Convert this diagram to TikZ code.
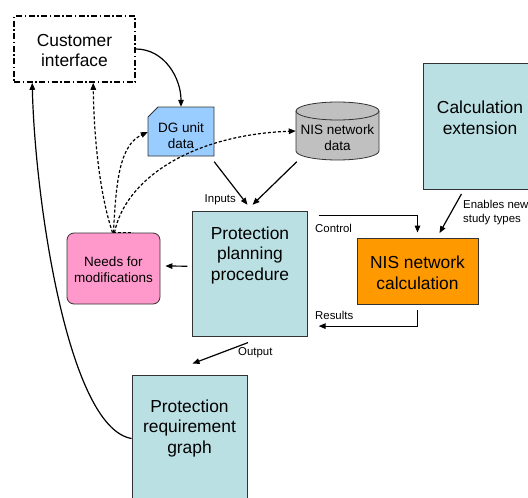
\documentclass[tikz,border=0pt]{standalone}
\usepackage{fontspec}
\setmainfont{Liberation Sans}
\usetikzlibrary{arrows.meta,calc}
\definecolor{tealbox}{HTML}{BBE0E3}
\definecolor{orangebox}{HTML}{FF9900}
\definecolor{pinkbox}{HTML}{FF99CC}
\definecolor{dgblue}{HTML}{99CCFF}
\definecolor{cylgray}{HTML}{C0C0C0}
\begin{document}
\begin{tikzpicture}[x=1pt,y=-1pt,
  >={Triangle[length=7pt,width=5.5pt]},
  box/.style={draw=black!80, line width=0.8pt, inner sep=0pt},
  anc/.style={inner sep=0pt},
  bigtxt/.style={align=center, inner sep=0pt, font=\fontsize{17.4}{20.5}\selectfont},
  midtxt/.style={align=center, inner sep=0pt, font=\fontsize{13.5}{16}\selectfont},
  lbl/.style={align=left, inner sep=0pt, font=\fontsize{11.4}{14}\selectfont},
  conn/.style={->, line width=1.2pt},
  dconn/.style={->, line width=1.2pt, dash pattern=on 3pt off 2pt}]
\useasboundingbox (0,0) rectangle (528,498);
\clip (0,0) rectangle (528,498);

% Customer interface
\node[box, draw=black, line width=1.6pt, dash pattern=on 6pt off 2.5pt on 1.5pt off 2.5pt,
      minimum width=121pt, minimum height=66pt] (ci) at (74.5,49) {};
\node[bigtxt] (cit) at (74.5,50.5) {Customer\\interface};

% DG unit data
\filldraw[fill=dgblue, draw=black!80, line width=0.8pt]
  (148,117) -- (158,107) -- (214,107) -- (214,156) -- (148,156) -- cycle;
\node[anc, minimum width=66pt, minimum height=49pt] (dg) at (181,131.5) {};
\node[midtxt] (dgt) at (181,136) {DG unit\\data};

% NIS network data (cylinder)
\filldraw[fill=cylgray, draw=black!80, line width=0.8pt]
  (296,111) -- (296,151) arc[start angle=180,end angle=360,x radius=41.5pt,y radius=9pt]
  -- (379,111) arc[start angle=0,end angle=180,x radius=41.5pt,y radius=9pt] -- cycle;
\draw[draw=black!80, line width=0.8pt]
  (296,111) arc[start angle=180,end angle=360,x radius=41.5pt,y radius=9pt];
\node[anc, minimum width=83pt, minimum height=58pt] (nis) at (337.5,131) {};
\node[midtxt] (nist) at (337.5,137.5) {NIS network\\data};

% Calculation extension
\node[box, fill=tealbox, minimum width=114pt, minimum height=126pt] (ce) at (480,126) {};
\node[bigtxt] (cet) at (480,118) {Calculation\\extension};

% Protection planning procedure
\node[box, fill=tealbox, minimum width=115.5pt, minimum height=125pt] (ppp) at (250,274.2) {};
\node[bigtxt] (pppt) at (250,255) {Protection\\planning\\procedure};

% NIS network calculation
\node[box, fill=orangebox, minimum width=121pt, minimum height=66pt] (nc) at (417.5,271) {};
\node[bigtxt] (nct) at (417.5,273) {NIS network\\calculation};

% Needs for modifications
\node[box, fill=pinkbox, rounded corners=7pt, minimum width=93pt, minimum height=71pt] (needs) at (113.5,268.5) {};
\node[midtxt] (needst) at (113.5,269.5) {Needs for\\modifications};

% Protection requirement graph
\node[box, fill=tealbox, minimum width=115pt, minimum height=127pt] (prg) at (189.5,438.5) {};
\node[bigtxt] (prgt) at (189.5,428) {Protection\\requirement\\graph};

% Connectors
\draw[conn] (ci.east) to[out=0,in=90] (dg.north);
\draw[conn] (prg.west) .. controls (68,428) and (35,200) .. ($(ci.south west)+(19,0)$);

\draw[dconn] ($(needs.north)+(-1,0)$) .. controls (100,195) and (94,140) .. ($(ci.south west)+(80,0)$);
\draw[dconn] (needs.north) .. controls (116,180) and (120,145) .. ($(dg.west)+(0,0.5)$);
\draw[dconn] ($(needs.north)+(1,0)$) .. controls (125,180) and (190,135) .. (nis.west);
\draw[line width=1.2pt, dash pattern=on 3pt off 2pt] ($(needs.north)+(-1,0)$) -- ($(needs.north)+(19,0)$);

\draw[conn] ($(dg.south east)+(0,5.5)$) -- ($(ppp.north)+(-2.5,-6.5)$);
\draw[conn] ($(nis.south west)+(1,1.5)$) -- ($(ppp.north)+(2.5,-6.5)$);
\node[lbl, anchor=east] (inl) at (236,200) {Inputs};

\draw[conn] ($(ppp.west)+(-4.5,-8)$) -- ($(needs.east)+(5,-2.5)$);

\draw[conn] ($(ppp.south)+(-2,5.5)$) -- ($(prg.north)+(3,-11)$);
\node[lbl, anchor=west] (outl) at (238,353) {Output};

\draw[conn] ($(ce.south)+(-18.5,4.5)$) -- ($(nc.north)+(22,-4.5)$);
\node[lbl, anchor=north west] (enl) at (463,200) {Enables new\\study types};

\draw[conn] ($(ppp.north east)+(10.5,4.5)$) -| ($(nc.north)+(0,-5)$);
\node[lbl, anchor=west] (ctl) at (315,228.5) {Control};

\draw[conn] ($(nc.south)+(0,6)$) |- ($(ppp.south east)+(10.5,-11)$);
\node[lbl, anchor=west] (rsl) at (315,315) {Results};
\end{tikzpicture}
\end{document}
